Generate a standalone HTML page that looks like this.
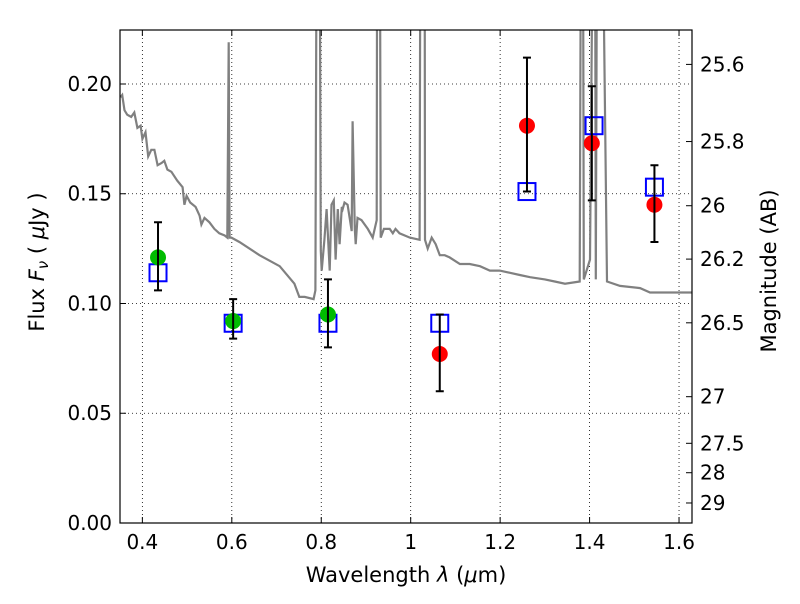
<!DOCTYPE html>
<html><head><meta charset="utf-8"><style>
body{margin:0;background:#fff;font-family:"DejaVu Sans","Liberation Sans",sans-serif}
svg text{font-family:"DejaVu Sans","Liberation Sans",sans-serif}
</style></head><body>
<svg id="chart" width="800" height="600" xmlns="http://www.w3.org/2000/svg"></svg>
<script>
const specLam=[0.351,0.355,0.360,0.366,0.375,0.382,0.389,0.396,0.400,0.407,0.413,0.420,0.427,0.434,0.443,0.449,0.456,0.465,0.478,0.490,0.494,0.499,0.507,0.519,0.528,0.532,0.539,0.550,0.561,0.572,0.584,0.590,0.593,0.595,0.599,0.617,0.662,0.707,0.740,0.751,0.763,0.783,0.787,0.790,0.796,0.799,0.801,0.807,0.812,0.819,0.823,0.828,0.832,0.837,0.841,0.846,0.848,0.852,0.859,0.868,0.870,0.875,0.877,0.881,0.890,0.904,0.915,0.924,0.925,0.931,0.933,0.940,0.953,0.960,0.966,0.975,0.998,1.020,1.022,1.031,1.032,1.038,1.047,1.056,1.065,1.076,1.087,1.110,1.132,1.155,1.177,1.199,1.222,1.244,1.267,1.300,1.322,1.345,1.378,1.381,1.385,1.387,1.401,1.408,1.412,1.414,1.417,1.428,1.439,1.468,1.513,1.535,1.558,1.591,1.629];
const specFlux=[0.194,0.195,0.188,0.186,0.185,0.187,0.180,0.181,0.175,0.178,0.167,0.170,0.170,0.163,0.164,0.165,0.161,0.160,0.156,0.153,0.145,0.149,0.146,0.144,0.140,0.136,0.139,0.137,0.134,0.132,0.131,0.130,0.219,0.130,0.130,0.128,0.122,0.117,0.109,0.103,0.103,0.102,0.106,0.3,0.3,0.124,0.115,0.129,0.143,0.115,0.145,0.147,0.120,0.143,0.127,0.144,0.143,0.146,0.145,0.133,0.183,0.134,0.127,0.139,0.138,0.134,0.130,0.138,0.3,0.3,0.130,0.134,0.134,0.132,0.134,0.132,0.130,0.129,0.3,0.3,0.129,0.125,0.130,0.127,0.122,0.122,0.121,0.118,0.118,0.117,0.115,0.115,0.114,0.113,0.112,0.111,0.110,0.109,0.110,0.3,0.3,0.111,0.120,0.3,0.3,0.111,0.3,0.3,0.110,0.108,0.107,0.105,0.105,0.105,0.105];
const obsLam=[0.435,0.603,0.815,1.065,1.26,1.405,1.545];
const obsFlux=[0.121,0.092,0.095,0.077,0.181,0.173,0.145];
const errLo=[0.106,0.084,0.080,0.060,0.151,0.147,0.128];
const errHi=[0.137,0.102,0.111,0.095,0.212,0.199,0.163];
const obsColor=["#00bb00","#00bb00","#00bb00","#ff0000","#ff0000","#ff0000","#ff0000"];
const modLam=[0.435,0.603,0.815,1.065,1.26,1.41,1.545];
const modFlux=[0.114,0.091,0.091,0.091,0.151,0.181,0.153];
const xTicks=[0.4,0.6,0.8,1.0,1.2,1.4,1.6];
const xTickLabels=["0.4","0.6","0.8","1","1.2","1.4","1.6"];
const yTicks=[0,0.05,0.10,0.15,0.20];
const yTickLabels=["0.00","0.05","0.10","0.15","0.20"];
const magTicks=[25.6,25.8,26,26.2,26.5,27,27.5,28,29];
const magTickLabels=["25.6","25.8","26","26.2","26.5","27","27.5","28","29"];

const L=120,R=692,T=30,B=523,X0=0.35,X1=1.629,Y0=0,Y1=0.2246;
const sx=v=>L+(v-X0)/(X1-X0)*(R-L);
const sy=v=>B-(v-Y0)/(Y1-Y0)*(B-T);
const svg=document.getElementById('chart');
const NS="http://www.w3.org/2000/svg";
function mk(tag,attrs,parent){const e=document.createElementNS(NS,tag);for(const k in attrs)e.setAttribute(k,attrs[k]);(parent||svg).appendChild(e);return e;}

const defs=mk('defs',{});const cp=mk('clipPath',{id:'clip'},defs);mk('rect',{x:L,y:T,width:R-L,height:B-T},cp);

xTicks.forEach(t=>{const g=mk('line',{x1:sx(t),x2:sx(t),y1:T,y2:B,stroke:'#000','stroke-width':0.8,'stroke-dasharray':'1,3'});

});
yTicks.forEach(t=>{const g=mk('line',{x1:L,x2:R,y1:sy(t),y2:sy(t),stroke:'#000','stroke-width':0.8,'stroke-dasharray':'1,3'});

});

let d='';specLam.forEach((l,i)=>{d+=(i?'L':'M')+sx(l).toFixed(1)+','+sy(specFlux[i]).toFixed(1);});
const sp=mk('path',{d:d,fill:'none',stroke:'#808080','stroke-width':2.2,'clip-path':'url(#clip)'});



modLam.forEach((l,i)=>{const r=mk('rect',{x:sx(l)-8.5,y:sy(modFlux[i])-8.5,width:17,height:17,fill:'none',stroke:'#0000ff','stroke-width':2});

});

obsLam.forEach((l,i)=>{const x=sx(l);
const c=mk('circle',{cx:x,cy:sy(obsFlux[i]),r:8,fill:obsColor[i]});


const e=mk('path',{d:`M${x},${sy(errLo[i])}V${sy(errHi[i])}M${x-4},${sy(errLo[i])}h8M${x-4},${sy(errHi[i])}h8`,stroke:'#000','stroke-width':2,fill:'none'});

});

const fr=mk('rect',{x:L,y:T,width:R-L,height:B-T,fill:'none',stroke:'#000','stroke-width':1.2});



xTicks.forEach((t,i)=>{const x=sx(t);mk('line',{x1:x,x2:x,y1:B,y2:B-6,stroke:'#000'});mk('line',{x1:x,x2:x,y1:T,y2:T+6,stroke:'#000'});
const tx=mk('text',{x:x,y:B+26,'font-size':20,'text-anchor':'middle'});tx.textContent=xTickLabels[i];

});
yTicks.forEach((t,i)=>{const y=sy(t);mk('line',{x1:L,x2:L+6,y1:y,y2:y,stroke:'#000'});
const tx=mk('text',{x:L-8,y:y+7,'font-size':20,'text-anchor':'end'});tx.textContent=yTickLabels[i];

});
magTicks.forEach((m,i)=>{const f=Math.pow(10,(23.9-m)/2.5);const y=sy(f);mk('line',{x1:R,x2:R-6,y1:y,y2:y,stroke:'#000'});
const tx=mk('text',{x:R+8,y:y+7,'font-size':20});tx.textContent=magTickLabels[i];

});
</script>
<svg style="position:absolute;left:0;top:0" width="800" height="600">
<text x="406" y="582" font-size="21" text-anchor="middle" font-family="DejaVu Sans, sans-serif">Wavelength  <tspan font-style="italic">λ</tspan> (<tspan font-style="italic">μ</tspan>m)</text>
<text transform="translate(44,262) rotate(-90)" font-size="21" text-anchor="middle" font-family="DejaVu Sans, sans-serif">Flux  <tspan font-style="italic">F</tspan><tspan font-style="italic" font-size="15" dy="4">ν</tspan><tspan dy="-4">  ( </tspan><tspan font-style="italic">μ</tspan>Jy )</text>
<text transform="translate(776,271) rotate(-90)" font-size="21" text-anchor="middle" font-family="DejaVu Sans, sans-serif">Magnitude (AB)</text>
</svg>
</body></html>
